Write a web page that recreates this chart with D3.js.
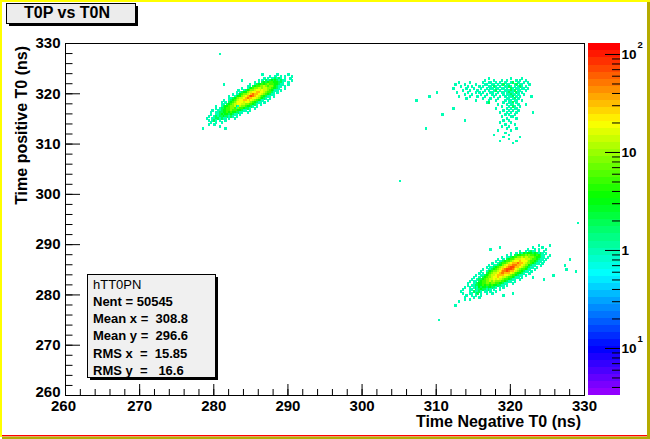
<!DOCTYPE html>
<html lang="en">
<head>
<meta charset="UTF-8">
<title>T0P vs T0N</title>
<script src="https://d3js.org/d3.v7.min.js"></script>
<style>
  body { margin: 0; background: #fff; }
  svg { display: block; }
  svg text { font-family: "Liberation Sans", Arial, sans-serif; }
</style>
</head>
<body>
<svg id="chart" width="650" height="439"></svg>
<script>
// histogram axes and binning
const xRange = [260, 330];
const yRange = [260, 330];
const binW = 0.25, binH = 0.4;
const majorTicks = [260, 270, 280, 290, 300, 310, 320, 330];

// colour axis (log z), range
const zLogMin = -1.48, zLogMax = 2.112;
const zMajor = [0.1, 1, 10, 100];
const zLabels = [["10", "1"], ["1", ""], ["10", ""], ["10", "2"]];

// codes used in the cluster maps -> bin content
const levelCodes = ["1", "2", "3", "4", "5", "6", "7", "8", "9", "A"];
const levelCounts = [1, 2, 3, 5, 8, 13, 20, 32, 50, 70];

// cluster maps: [first column, row]; rows run downward from the top edge
const leftX0 = 279.0, leftTop = 324.0;
const leftRows = [
  [30, "1.......1.....1"],
  [34, "1..1..1.1...1"],
  [31, "1.1.112121.1..1"],
  [28, "1.1.21232321211...1"],
  [26, "1.1.232344333221..1"],
  [23, "1..1233434544433211..1"],
  [22, "11.2344556545543211.1"],
  [19, "1..123455665665543321..1"],
  [17, "1..1234556776766543211.1"],
  [16, "1.1233566778877654421.1"],
  [14, "1.113455678988776543211"],
  [12, "1..123356789A9876543211.1"],
  [12, "112345667898877654321.1"],
  [9, "1..1234567788787654321..1"],
  [8, "1.1.234567776776543211.1"],
  [8, "11.23456677665544321.1"],
  [5, "1..123345562165543321.1"],
  [5, "1.12234455415443221..1"],
  [3, "1..1123344544433211.1"],
  [2, "1..112233434332211..1"],
  [2, "1..112323323211.1"],
  [1, "1..12122322121.1"],
  [0, "1..11221211.1..1"],
  [1, "1.121.1..1"],
  [2, "1..1..1"],
  [1, "1..1"],
  [7, "1"],
  [10, "1"]
];

const lowX0 = 312.0, lowTop = 290.0;
const lowRows = [
  [47, "1.....1"],
  [44, "1....1"],
  [41, "1...1.1...1"],
  [37, "1..1.1211.1..1"],
  [32, "1..1.2132333232121.1"],
  [30, "1.1.22334454544343211..1"],
  [27, "1..112344556566555433211.1"],
  [25, "1..1.23445666776665443211.1"],
  [24, "1.11234456777877765443211.1"],
  [22, "1..12344567888988765543211.1"],
  [20, "1..11233567889998876553211..1"],
  [19, "1.11234566789AA98876543211.1"],
  [17, "1..1123456789AAA9876544321..1"],
  [16, "1..12345567899A98876543211.1"],
  [15, "1.1.234566789988876543321..1"],
  [13, "1..11234566788887765443211.1"],
  [12, "1..1.23455677877665443211.1"],
  [11, "1..122345566767665443211..1"],
  [10, "1.11.234455656555443211.1"],
  [9, "1..1123344554554433211..1"],
  [9, "1.112233434434332211.1"],
  [7, "1..1.1213233233221.1.1"],
  [6, "1...11.212322121.1..1"],
  [5, "1....1.21121.11.1..1"],
  [6, "1...11.12.1..1..1"],
  [8, "1..1.1..1"],
  [7, "1....1..1"],
  [7, "1..1"],
  [4, "1"]
];

const highX0 = 307.0, highTop = 323.2;
const highRows = [
  [40, "1...........1.....1"],
  [38, "1....1...1..1....1.1..1"],
  [24, "1.....1......1..11..1.1..1..12..1..1.1"],
  [22, "1....1.....1....11..11.1.12.11..12.11...1"],
  [25, "1...1.1...1.1..11.21.1..1121.1.121.1"],
  [21, "1......1...1...1..1.11.11.11.1.21.11.11.1"],
  [26, "1...1...1...1.1..12.1..111212.11..1"],
  [23, "1.....1...1.1.1...11..1.11.1211.21.1"],
  [27, "1...1....1..1..1.1...1.11211.1..1"],
  [24, "1.....1...1...1....1..1..1.112.1.1.....1"],
  [28, "1........1...1...1....11.12.1"],
  [33, "1......1...1....1.11.11..1"],
  [39, "12.......1..112.1"],
  [45, "1....1.11..1...1"],
  [47, "1...1.21..1"],
  [44, "1.....1.1.11"],
  [48, "1..1.1..1"],
  [46, "1...1.1..1........1"],
  [49, "1.1..1"],
  [47, "1....11"],
  [50, "1....1"],
  [48, "1..1"],
  [46, "1.....1"],
  [49, "1....1"],
  [47, "1...1"],
  [50, "1....1"],
  [45, "1......1"],
  [49, "1"],
  [43, "1.......1"],
  [48, "1........1"],
  [51, "1"],
  [46, "1........1"],
  [53, "1"]
];

// isolated single entries
const strayX = [283.9, 281.4, 318.6, 317.4, 325.9, 323.1, 324.6, 320.4, 319.1, 312.4, 310.9, 313.9, 308.6,
                310.1, 309.1, 307.4, 280.8, 278.5, 305.2, 310.4, 312.5, 327.3, 327.7, 328.2, 328.9, 329.1];
const strayY = [322.6, 321.8, 289.4, 289.0, 283.8, 283.4, 283.0, 280.2, 279.8, 317.0, 315.8, 314.6, 313.0,
                320.2, 319.4, 318.6, 327.9, 313.2, 302.6, 274.9, 277.7, 285.8, 284.8, 286.8, 284.6, 294.2];

const statsName = "hTT0PN";
const statsLines = ["Nent = 50545", "Mean x =  308.8", "Mean y =  296.6", "RMS x  =  15.85", "RMS y  =   16.6"];

// ---------------------------------------------------------------
const cells = [];
function addMap(x0, top, rows) {
  rows.forEach(([c0, s], r) => {
    for (let i = 0; i < s.length; i++) {
      const k = levelCodes.indexOf(s[i]);
      if (k < 0) continue;
      cells.push({ x: x0 + (c0 + i) * binW, y: top - (r + 1) * binH, n: levelCounts[k] });
    }
  });
}
addMap(leftX0, leftTop, leftRows);
addMap(lowX0, lowTop, lowRows);
addMap(highX0, highTop, highRows);
strayX.forEach((sx, i) => {
  cells.push({
    x: xRange[0] + Math.floor((sx - xRange[0]) / binW) * binW,
    y: yRange[0] + Math.floor((strayY[i] - yRange[0]) / binH) * binH,
    n: 1
  });
});

const svg = d3.select("#chart");
const W = 650, H = 439;
const frame = { left: 65, right: 584, top: 43, bottom: 395 };

svg.append("rect").attr("width", W).attr("height", H).attr("fill", "#fff");

const x = d3.scaleLinear().domain(xRange).range([frame.left, frame.right]);
const y = d3.scaleLinear().domain(yRange).range([frame.bottom, frame.top]);

// ROOT "pretty" palette, violet -> red
const nColors = 50;
const palette = d3.range(nColors).map(i => d3.hsl(280 - (i + 1) * 280 / nColors, 1, 0.5).formatHex());
const colour = d3.scaleQuantize().domain([zLogMin, zLogMax]).range(palette);

svg.append("g")
  .attr("shape-rendering", "crispEdges")
  .selectAll("rect")
  .data(cells)
  .join("rect")
  .attr("x", d => x(d.x))
  .attr("y", d => y(d.y + binH))
  .attr("width", d => x(d.x + binW) - x(d.x) + 0.4)
  .attr("height", d => y(d.y) - y(d.y + binH) + 0.4)
  .attr("fill", d => colour(Math.log10(d.n)));

// frame
svg.append("rect")
  .attr("x", frame.left + 0.5).attr("y", frame.top + 0.5)
  .attr("width", frame.right - frame.left).attr("height", frame.bottom - frame.top)
  .attr("fill", "none").attr("stroke", "#000").attr("shape-rendering", "crispEdges");

function styleAxis(g) {
  g.select(".domain").remove();
  g.attr("font-family", "Liberation Sans, Arial, sans-serif")
    .attr("font-size", 15).attr("font-weight", "bold");
  g.selectAll("line").attr("stroke", "#000");
  g.selectAll("text").attr("fill", "#000");
}

const minorTicks = d3.range(260, 331, 2);
svg.append("g").attr("transform", `translate(0,${frame.bottom})`)
  .call(d3.axisBottom(x).tickValues(minorTicks).tickSize(-6).tickFormat(""))
  .call(styleAxis);
svg.append("g").attr("transform", `translate(0,${frame.bottom})`)
  .call(d3.axisBottom(x).tickValues(majorTicks).tickSize(-11).tickPadding(5.5).tickFormat(d3.format("d")))
  .call(styleAxis)
  .call(g => g.selectAll(".tick text").filter(d => d === 260).attr("dx", -2));

svg.append("g").attr("transform", `translate(${frame.left},0)`)
  .call(d3.axisLeft(y).tickValues(minorTicks).tickSize(-7.5).tickFormat(""))
  .call(styleAxis);
svg.append("g").attr("transform", `translate(${frame.left},0)`)
  .call(d3.axisLeft(y).tickValues(majorTicks).tickSize(-15).tickPadding(4.5).tickFormat(d3.format("d")))
  .call(styleAxis)
  .call(g => g.selectAll(".tick text").filter(d => d === 260).attr("dy", "0.1em"));

// axis titles
svg.append("text")
  .attr("x", 581).attr("y", 427)
  .attr("text-anchor", "end").attr("font-size", 16).attr("font-weight", "bold")
  .text("Time Negative T0 (ns)");
svg.append("text")
  .attr("transform", "translate(27,46) rotate(-90)")
  .attr("text-anchor", "end").attr("font-size", 16).attr("font-weight", "bold")
  .text("Time positive T0 (ns)");

// colour bar
const barX = 588, barW = 32;
const zScale = d3.scaleLog().domain([10 ** zLogMin, 10 ** zLogMax]).range([frame.bottom, frame.top]);
const bandStep = (zLogMax - zLogMin) / nColors;
svg.append("g")
  .attr("shape-rendering", "crispEdges")
  .selectAll("rect")
  .data(d3.range(nColors))
  .join("rect")
  .attr("x", barX).attr("width", barW)
  .attr("y", i => zScale(10 ** (zLogMin + (i + 1) * bandStep)))
  .attr("height", i => zScale(10 ** (zLogMin + i * bandStep)) - zScale(10 ** (zLogMin + (i + 1) * bandStep)) + 0.4)
  .attr("fill", i => palette[i]);

const zMinor = [];
[0.01, 0.1, 1, 10].forEach(dec => {
  for (let m = 2; m <= 9; m++) {
    const v = dec * m;
    if (v > 10 ** zLogMin && v < 10 ** zLogMax) zMinor.push(v);
  }
});
svg.append("g").attr("transform", `translate(${barX + barW},0)`)
  .call(d3.axisRight(zScale).tickValues(zMinor).tickSize(-8).tickFormat(""))
  .call(styleAxis);
svg.append("g").attr("transform", `translate(${barX + barW},0)`)
  .call(d3.axisRight(zScale).tickValues(zMajor).tickSize(-15).tickFormat(""))
  .call(styleAxis);

const zLab = svg.append("g").attr("font-size", 13.5).attr("font-weight", "bold");
zMajor.forEach((v, i) => {
  const t = zLab.append("text")
    .attr("x", barX + barW + 1.5)
    .attr("y", zScale(v) + 5);
  t.append("tspan").text(zLabels[i][0]);
  if (zLabels[i][1]) {
    t.append("tspan").attr("dy", -11).attr("dx", 1).attr("font-size", 9.5).text(zLabels[i][1]);
  }
});

// title box
svg.append("rect").attr("x", 9).attr("y", 6).attr("width", 129).attr("height", 20).attr("fill", "#000");
svg.append("rect").attr("x", 6.5).attr("y", 3.5).attr("width", 129).attr("height", 20)
  .attr("fill", "#ececec").attr("stroke", "#000");
svg.append("text").attr("x", 67).attr("y", 18)
  .attr("text-anchor", "middle").attr("font-size", 16).attr("font-weight", "bold")
  .text("T0P vs T0N");

// stats box
const sb = { x: 87.5, y: 274.5, w: 128, h: 103 };
svg.append("rect").attr("x", sb.x + 2.5).attr("y", sb.y + 2.5).attr("width", sb.w).attr("height", sb.h).attr("fill", "#000");
svg.append("rect").attr("x", sb.x).attr("y", sb.y).attr("width", sb.w).attr("height", sb.h)
  .attr("fill", "#f0f0f0").attr("stroke", "#000");
svg.append("text").attr("x", 93).attr("y", 289.3).attr("font-size", 13).text(statsName);
svg.append("g").attr("font-size", 13).attr("font-weight", "bold")
  .selectAll("text")
  .data(statsLines)
  .join("text")
  .attr("x", 93)
  .attr("y", (d, i) => 306 + i * 17.2)
  .attr("xml:space", "preserve")
  .style("white-space", "pre")
  .text(d => d);

// canvas border
svg.append("rect").attr("x", 0).attr("y", 0).attr("width", W).attr("height", 2).attr("fill", "#ffff00");
svg.append("rect").attr("x", 0).attr("y", 0).attr("width", 2).attr("height", H - 2).attr("fill", "#ffff00");
svg.append("rect").attr("x", W - 3).attr("y", 2).attr("width", 3).attr("height", H - 2).attr("fill", "#b5ab00");
svg.append("rect").attr("x", 2).attr("y", H - 2.5).attr("width", W - 2).attr("height", 2.5).attr("fill", "#b5ab00");
svg.append("rect").attr("x", 2).attr("y", H - 4).attr("width", W - 5).attr("height", 1.2).attr("fill", "#ff0000");
</script>
</body>
</html>
